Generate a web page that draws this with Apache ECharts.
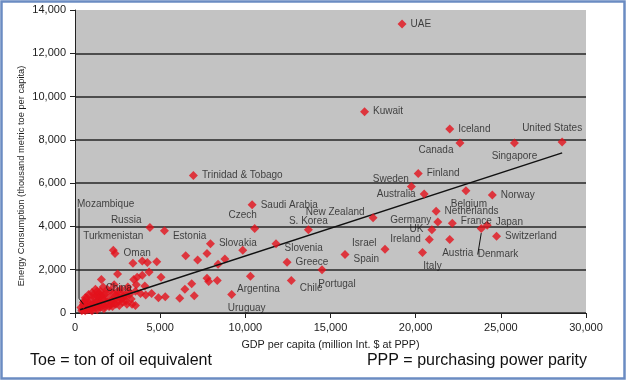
<!DOCTYPE html>
<html>
<head>
<meta charset="utf-8">
<script src="https://cdn.jsdelivr.net/npm/echarts@6/dist/echarts.min.js"></script>
<style>
html,body{margin:0;padding:0;background:#fff;}
#chart{width:627px;height:381px;}
</style>
</head>
<body>
<div id="chart"></div>
<script>
// ---- data ----
const labeledNames = ['UAE','Kuwait','Iceland','Canada','Singapore','United States','Finland','Sweden','Australia','Belgium','Norway','Netherlands','Germany','France','Japan','UK','Switzerland','Ireland','Austria','Italy','Israel','Spain','Portugal','New Zealand','S. Korea','Slovenia','Greece','Chile','Argentina','Uruguay','Czech','Saudi Arabia','Slovakia','Estonia','Russia','Turkmenistan','Oman','China','Trinidad & Tobago'];
const labeledGdp    = [19200,17000,22000,22600,25800,28600,20150,19750,20500,22950,24500,21200,21300,22150,24200,20950,24750,20800,22000,20400,18200,15850,14500,17500,13700,11800,12450,12700,10300,9200,10550,10400,7950,5250,4400,2250,2350,1300,6950];
const labeledEnergy = [13350,9300,8500,7850,7850,7900,6450,5850,5500,5650,5450,4700,4200,4150,4050,3850,3550,3400,3400,2800,2950,2700,2000,4400,3850,3200,2350,1500,1700,850,3900,5000,3200,3800,3950,2900,2750,1000,6350];

const leaderNames  = ['Mozambique','Denmark'];
const leaderGdp    = [500,23850];
const leaderEnergy = [400,3900];

const otherGdp = [3400,3950,4250,4800,2500,3450,3650,3950,4350,5050,1550,6500,7200,7750,9850,8800,8400,7750,7850,8350,6450,6850,7000,6150,3850,4150,4500,4900,5300,3550,3600,4100,3100,1400,2400,2900,3150,3550,3350,
  350,450,500,600,650,700,750,800,850,900,950,1000,1050,1100,1150,1200,1250,1300,1350,1450,1500,1550,1600,1700,1750,1800,1900,2000,2050,2150,2250,2300,2450,2550,2650,2750,2850,3000,3200,600,800,1000,1200,1400,1650,2100,550,900,1300,1700,2200,2600,3050,
  400,600,800,1000,1200,1400,1600,1800,2000,2200,2400,2600,2800,3000,3300,1100,1500,1900,2300,2700,700,500,1300,1700,2500];
const otherEnergy = [2300,2400,2330,2370,1800,1550,1650,1750,1900,1650,1550,2650,2450,2750,2900,2500,2250,1600,1450,1500,1100,1350,800,680,900,830,900,700,750,350,1300,1250,1200,700,830,830,1000,1000,400,
  250,150,350,200,450,300,150,500,250,350,600,200,400,300,700,450,250,550,350,500,250,800,400,600,300,900,500,700,350,600,900,450,700,550,950,650,750,550,850,700,850,950,1100,900,1200,1050,550,150,150,200,300,350,400,
  100,100,200,100,350,300,650,450,300,500,400,700,500,800,650,850,1000,1100,1300,1100,700,500,800,850,1000];

const trendGdp    = [300, 28600];
const trendEnergy = [150, 7400];

const yTicks = [0,2000,4000,6000,8000,10000,12000,14000];
const xTicks = [0,5000,10000,15000,20000,25000,30000];

// ---- label placement (style only) ----
const labelPlace = {
  'Canada':['left',[2,7]], 'Singapore':['bottom',[0,0]], 'United States':['top',[-10,0]],
  'Sweden':['left',[6,-7]], 'Australia':['left',[0,0]], 'Belgium':['bottom',[3,0]],
  'Germany':['left',[2,-2]], 'France':['right',[0,-2]], 'Japan':['right',[0,-3]],
  'UK':['left',[0,0]], 'Ireland':['left',[0,0]], 'Austria':['bottom',[8,0]],
  'Italy':['bottom',[10,0]], 'Israel':['left',[0,-6]], 'Spain':['right',[0,5]],
  'Portugal':['bottom',[15,1]], 'New Zealand':['left',[0,-6]], 'S. Korea':['top',[0,5]],
  'Slovenia':['right',[0,5]], 'Chile':['right',[0,8]], 'Argentina':['bottom',[8,0]],
  'Uruguay':['bottom',[15,0]], 'Czech':['top',[-12,0]], 'Estonia':['right',[0,5]],
  'Russia':['left',[0,-7]], 'Turkmenistan':['top',[0,0]], 'China':['right',[0,-3]]
};
const leaderShift = [[-15,-100],[-12,26]];

const fmt = v => v.toLocaleString('en-US');
const red = '#e3121b';
const FONT = 'Arial, Liberation Sans, sans-serif';
const labelFont = {fontFamily:FONT, fontSize:10, color:'#1c1c1c'};

const labeledData = labeledNames.map((n,i) => {
  const p = labelPlace[n] || ['right',[0,0]];
  return {name:n, value:[labeledGdp[i], labeledEnergy[i]],
    label:{show:true, formatter:n, position:p[0], offset:p[1], distance:4}};
});
const leaderData = leaderNames.map((n,i) => ({name:n, value:[leaderGdp[i], leaderEnergy[i]],
  labelLine:{show: i === 1}}));
const otherData = otherGdp.map((g,i) => [g, otherEnergy[i]]);

const chart = echarts.init(document.getElementById('chart'), null, {renderer:'canvas'});
chart.setOption({
  backgroundColor:'#ffffff',
  animation:false,
  grid:{left:75, right:41, top:10, bottom:68, show:true, backgroundColor:'#c3c3c3', borderWidth:0, containLabel:false, outerBoundsMode:'none'},
  xAxis:{
    type:'value', min:xTicks[0], max:xTicks[xTicks.length-1], interval:5000,
    name:'GDP per capita (million Int. $ at PPP)', nameLocation:'middle', nameGap:27,
    nameTextStyle:{fontFamily:FONT, fontSize:10.8, color:'#1c1c1c'},
    axisLine:{show:true, lineStyle:{color:'#222', width:1}},
    axisTick:{show:true, length:5, lineStyle:{color:'#222'}},
    axisLabel:{formatter:fmt, margin:9, fontFamily:FONT, fontSize:11, color:'#1c1c1c'},
    splitLine:{show:false}
  },
  yAxis:{
    type:'value', min:yTicks[0], max:yTicks[yTicks.length-1], interval:2000,
    axisLine:{show:true, lineStyle:{color:'#222', width:1}},
    axisTick:{show:true, length:5, lineStyle:{color:'#222'}},
    axisLabel:{formatter:fmt, margin:9, fontFamily:FONT, fontSize:11, color:'#1c1c1c'},
    splitLine:{show:true, showMaxLine:false, lineStyle:{color:'#262626', width:1.6}}
  },
  graphic:[
    {type:'rect', shape:{x:1.5, y:1.5, width:623, height:377}, style:{fill:'none', stroke:'#6b8cc2', lineWidth:2.5}, z:100},
    {type:'text', x:21, y:176, rotation:Math.PI/2, style:{text:'Energy Consumption (thousand metric toe per capita)', font:'9.3px ' + FONT, fill:'#1c1c1c', align:'center', verticalAlign:'middle'}},
    {type:'text', left:30, top:353, style:{text:'Toe = ton of oil equivalent', font:'16px ' + FONT, fill:'#111'}},
    {type:'text', right:40, top:353, style:{text:'PPP = purchasing power parity', font:'16px ' + FONT, fill:'#111'}}
  ],
  series:[
    {type:'scatter', symbol:'diamond', symbolSize:9, itemStyle:{color:red}, data:otherData, z:3},
    {type:'line', data:trendGdp.map((g,i)=>[g, trendEnergy[i]]), symbol:'none', lineStyle:{color:'#111', width:1.5}, z:4},
    {type:'scatter', symbol:'diamond', symbolSize:9, itemStyle:{color:red}, data:labeledData, z:5,
      label:Object.assign({show:true}, labelFont)},
    {type:'scatter', symbol:'diamond', symbolSize:9, itemStyle:{color:red}, data:leaderData, z:5,
      label:Object.assign({show:true, position:'right', distance:4, formatter:'{b}'}, labelFont),
      labelLine:{show:true, lineStyle:{color:'#111', width:1}},
      labelLayout:function(p){ const s = leaderShift[p.dataIndex]; return {dx:s[0], dy:s[1]}; }
    }
  ]
});

// Mozambique leader line: routed down the left side, anchored to the point via the chart's own scales
const moz = chart.convertToPixel({seriesIndex:3}, [leaderGdp[0], leaderEnergy[0]]);
const lx = moz[0] - 4.5;
chart.setOption({graphic:[
  {type:'rect', shape:{x:1.5, y:1.5, width:623, height:377}, style:{fill:'none', stroke:'#6b8cc2', lineWidth:2.5}, z:100},
  {type:'text', x:21, y:176, rotation:Math.PI/2, style:{text:'Energy Consumption (thousand metric toe per capita)', font:'9.3px ' + FONT, fill:'#1c1c1c', align:'center', verticalAlign:'middle'}},
  {type:'text', left:30, top:353, style:{text:'Toe = ton of oil equivalent', font:'16px ' + FONT, fill:'#111'}},
  {type:'text', right:40, top:353, style:{text:'PPP = purchasing power parity', font:'16px ' + FONT, fill:'#111'}},
  {type:'polyline', shape:{points:[[lx, moz[1] - 96], [lx, moz[1] - 6], [moz[0], moz[1]]]}, style:{stroke:'#111', lineWidth:1, fill:null}, z:10}
]});
</script>
</body>
</html>
